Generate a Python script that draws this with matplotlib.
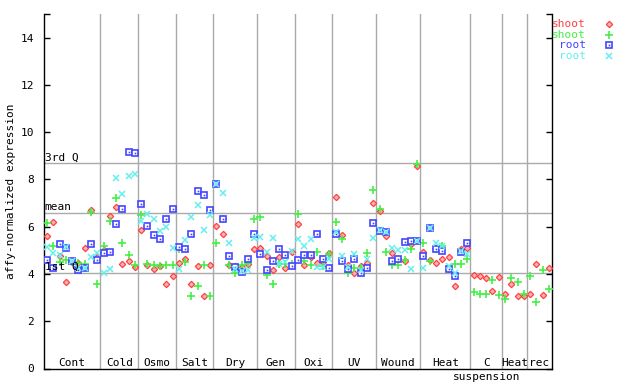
# affy-normalized expression, shoot/root samples per treatment
import numpy as np
import matplotlib
matplotlib.use('Agg')
import matplotlib.pyplot as plt

# treatment groups and how many sample slots each one takes
groups = ['Cont', 'Cold', 'Osmo', 'Salt', 'Dry', 'Gen', 'Oxi', 'UV',
          'Wound', 'Heat', 'C', 'Heat', 'rec']
group_sizes = [9, 6, 6, 6, 7, 6, 6, 7, 7, 8, 5, 4, 4]

# shoot (red diamonds)
shoot_red = [5.62, 6.20, 4.75, 3.68, 4.50, 4.45, 5.08, 6.69, 4.70,   # Cont
             5.03, 6.45, 6.82, 4.44, 4.54, 4.30,                     # Cold
             5.88, 4.40, 4.19, 4.33, 3.59, 3.90,                     # Osmo
             4.48, 4.62, 3.59, 4.33, 3.08, 4.36,                     # Salt
             6.05, 5.71, 4.36, 4.33, 4.30, 4.44, 5.04,               # Dry
             5.08, 4.78, 4.16, 4.72, 4.27, 4.91,                     # Gen
             6.10, 4.36, 4.70, 4.48, 4.51, 4.89,                     # Oxi
             7.24, 5.64, 4.36, 4.05, 4.33, 4.47, 6.99,               # UV
             6.66, 5.60, 4.87, 4.62, 4.54, 5.26, 8.57,               # Wound
             4.92, 4.61, 4.48, 4.62, 4.70, 3.51, 5.04, 5.08,         # Heat
             3.97, 3.93, 3.85, 3.27, 3.88,                           # C suspension
             3.17, 3.59, 3.07, 3.07,                                 # Heat
             3.17, 4.44, 3.13, 4.27]                                 # rec

# shoot (green crosses)
shoot_green = [6.14, 5.20, 4.50, 4.58, 4.52, 4.47, 4.41, 6.63, 3.59,
               5.20, 6.24, 7.20, 5.29, 4.82, 4.40,
               6.48, 4.44, 4.36, 4.34, 4.36, 4.36,
               5.05, 4.51, 3.08, 3.48, 4.36, 3.08,
               5.29, 6.31, 4.36, 4.05, 4.36, 4.47, 6.31,
               6.39, 3.97, 3.59, 4.41, 4.44, 4.41,
               6.52, 4.55, 4.38, 4.91, 4.33, 4.84,
               6.18, 5.46, 4.05, 4.27, 4.27, 4.87, 7.54,
               6.73, 4.95, 4.36, 4.40, 4.58, 5.06, 8.66,
               5.29, 4.54, 5.06, 5.20, 4.22, 4.44, 4.44, 4.62,
               3.24, 3.17, 3.17, 3.73, 3.13,
               2.96, 3.83, 3.64, 3.14,
               3.90, 2.83, 4.16, 3.35]

# root (blue squares), no root samples after Heat
root_blue = [4.58, 4.24, 5.25, 5.10, 4.55, 4.16, 4.24, 5.25, 4.61,
             4.87, 4.95, 6.10, 6.73, 9.15, 9.11,
             6.94, 6.01, 5.63, 5.46, 6.31, 6.73,
             5.12, 5.05, 5.67, 7.51, 7.34, 6.70,
             7.81, 6.31, 4.78, 4.30, 4.10, 4.65, 5.67,
             4.84, 4.16, 4.53, 5.04, 4.82, 4.33,
             4.58, 4.82, 4.82, 5.67, 4.65, 4.27,
             5.71, 4.54, 4.23, 4.65, 4.06, 4.27, 6.14,
             5.81, 5.78, 4.53, 4.62, 5.36, 5.39, 5.39,
             4.75, 5.95, 5.04, 4.96, 4.19, 3.90, 4.91, 5.29]

# root (cyan x)
root_cyan = [5.15, 4.87, 4.82, 5.12, 4.55, 4.25, 4.24, 4.70, 4.87,
             4.05, 4.21, 8.05, 7.37, 8.15, 8.22,
             6.24, 6.53, 6.31, 5.81, 5.97, 5.10,
             4.23, 5.43, 6.39, 6.92, 5.86, 6.48,
             7.81, 7.41, 5.33, 4.23, 4.12, 4.16, 5.54,
             5.57, 4.91, 5.54, 4.44, 4.51, 4.98,
             5.49, 5.20, 5.46, 4.29, 4.30, 4.65,
             5.78, 4.75, 4.30, 4.84, 4.16, 4.65, 5.54,
             5.88, 5.78, 5.08, 5.01, 5.00, 4.23, 5.39,
             4.27, 5.95, 5.29, 5.20, 4.33, 4.06, 4.98, 4.84]

# reference lines (3rd quartile, mean, 1st quartile)
stat_names = ['3rd Q', 'mean', '1st Q']
stat_values = [8.68, 6.60, 4.06]

RED = '#ff4040'
GREEN = '#44f044'
BLUE = '#4444ff'
CYAN = '#66eeee'
GRID = '#aaaaaa'
MONO = 'DejaVu Sans Mono'

fig = plt.figure(figsize=(6.4, 3.84), dpi=100)
ax = fig.add_axes([44 / 640, 1 - 368.5 / 384, 508 / 640, 354.5 / 384])

n_slots = sum(group_sizes)
edges = np.concatenate(([0], np.cumsum(group_sizes)))

# separators between groups and the stat lines
for e in edges[1:-1]:
    ax.axvline(e, color=GRID, lw=1.0, zorder=1)
for name, v in zip(stat_names, stat_values):
    ax.axhline(v, color=GRID, lw=1.0, zorder=1)
    ax.text(0.1, v + 0.02, name, family=MONO, fontsize=8, va='bottom',
            ha='left', zorder=5)

x_all = np.arange(n_slots) + 0.5
x_root = x_all[:len(root_blue)]

red_style = dict(marker='D', ms=3.2, mfc='#ffb4b4', mec=RED, mew=0.9)
green_style = dict(marker='+', ms=5.2, color=GREEN, mew=1.2)
blue_style = dict(marker='s', ms=4.3, mfc='white', mec=BLUE, mew=1.2)
dot_style = dict(marker='s', ms=1.2, color=BLUE, mew=0)
cyan_style = dict(marker='x', ms=4.3, color=CYAN, mew=1.1)

ax.plot(x_all, shoot_red, ls='none', zorder=3, **red_style)
ax.plot(x_all, shoot_green, ls='none', zorder=3, **green_style)
ax.plot(x_root, root_blue, ls='none', zorder=3, **blue_style)
ax.plot(x_root, root_blue, ls='none', zorder=3, **dot_style)
ax.plot(x_root, root_cyan, ls='none', zorder=3, **cyan_style)

# group names inside the bottom of the plot
for name, lo, hi in zip(groups, edges[:-1], edges[1:]):
    ax.text((lo + hi) / 2, 0.12, name, family=MONO, fontsize=8,
            ha='center', va='baseline', zorder=5)
ax.text((edges[10] + edges[11]) / 2, -0.38, 'suspension', family=MONO,
        fontsize=8, ha='center', va='center', clip_on=False)

ax.set_xlim(0, n_slots)
ax.set_ylim(0, 15)
ax.set_xticks([])
ax.set_yticks(np.arange(0, 15, 2))
ax.set_yticks([15], minor=True)
ax.tick_params(axis='y', which='both', direction='in', length=4, width=1,
               pad=7, labelsize=8, right=True, left=True)
for lab in ax.get_yticklabels():
    lab.set_family(MONO)
ax.spines['top'].set_visible(False)
for s in ['left', 'right', 'bottom']:
    ax.spines[s].set_linewidth(1.0)

fig.text(11 / 640, 1 - 191 / 384, 'affy-normalized expression', family=MONO,
         fontsize=8, rotation=90, ha='center', va='center')

# legend drawn by hand on the right
legend_rows = [('shoot', RED, [red_style]), ('shoot', GREEN, [green_style]),
               ('root', BLUE, [blue_style, dot_style]), ('root', CYAN, [cyan_style])]
xm = 609 / 640
for i, (label, col, styles) in enumerate(legend_rows):
    y = 1 - (24 + 10.7 * i) / 384
    fig.text(586 / 640, y, label, family=MONO, fontsize=8, color=col,
             ha='right', va='center')
    for st in styles:
        fig.lines.append(plt.Line2D([xm], [y], transform=fig.transFigure,
                                    ls='none', **st))

fig.savefig('out.png', dpi=100)
